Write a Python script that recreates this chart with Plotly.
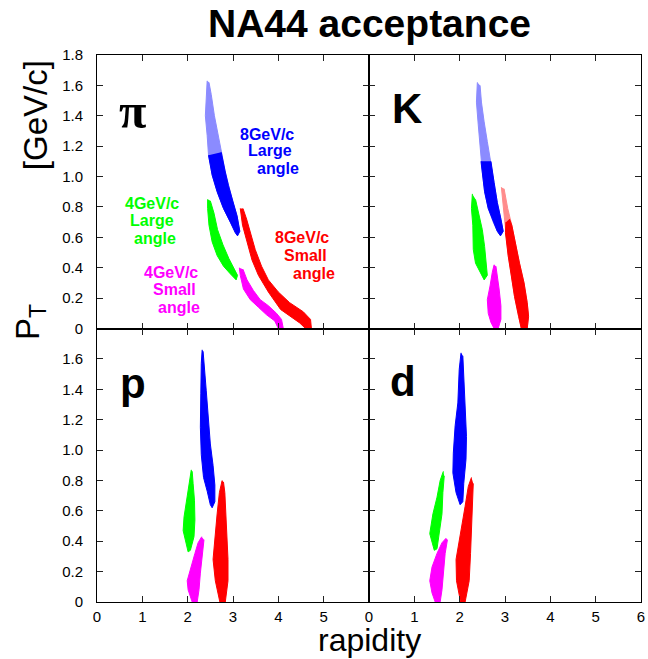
import plotly.graph_objects as go
from plotly.subplots import make_subplots

# ---------------- data (rapidity, pT) ----------------
# colours: blue = 8GeV/c large angle, green = 4GeV/c large angle,
#          magenta = 4GeV/c small angle, red = 8GeV/c small angle
x_ticks = [0, 1, 2, 3, 4, 5, 6]
y_ticks_top = [0, 0.2, 0.4, 0.6, 0.8, 1.0, 1.2, 1.4, 1.6, 1.8]
y_ticks_bot = [0, 0.2, 0.4, 0.6, 0.8, 1.0, 1.2, 1.4, 1.6]
y_ticktext_top = ["0", "0.2", "0.4", "0.6", "0.8", "1.0", "1.2", "1.4", "1.6", "1.8"]
y_ticktext_bot = ["0", "0.2", "0.4", "0.6", "0.8", "1.0", "1.2", "1.4", "1.6"]

# pi
pi_blue_y = [2.43, 2.42, 2.39, 2.43, 2.46, 2.54, 2.65, 2.79, 2.94, 3.05, 3.10, 3.15, 3.09, 3.00, 2.90, 2.83, 2.76, 2.67, 2.59, 2.52, 2.47]
pi_blue_pt = [1.63, 1.54, 1.40, 1.27, 1.14, 1.01, 0.90, 0.79, 0.70, 0.63, 0.61, 0.64, 0.74, 0.83, 0.94, 1.03, 1.14, 1.27, 1.40, 1.54, 1.62]
pi_blue_core_y = [2.46, 2.54, 2.65, 2.79, 2.94, 3.05, 3.10, 3.15, 3.09, 3.00, 2.90, 2.83, 2.74]
pi_blue_core_pt = [1.14, 1.01, 0.90, 0.79, 0.70, 0.63, 0.61, 0.64, 0.74, 0.83, 0.94, 1.03, 1.16]
pi_green_y = [2.44, 2.44, 2.47, 2.54, 2.65, 2.79, 2.94, 3.07, 3.10, 3.01, 2.91, 2.78, 2.66, 2.58, 2.50]
pi_green_pt = [0.85, 0.79, 0.68, 0.57, 0.48, 0.41, 0.36, 0.32, 0.35, 0.40, 0.46, 0.55, 0.65, 0.76, 0.84]
pi_mag_y = [3.14, 3.16, 3.23, 3.38, 3.56, 3.74, 3.92, 4.00, 4.11, 4.07, 3.96, 3.78, 3.60, 3.45, 3.31, 3.22]
pi_mag_pt = [0.40, 0.35, 0.26, 0.19, 0.14, 0.09, 0.05, 0.0, 0.0, 0.06, 0.10, 0.15, 0.19, 0.25, 0.32, 0.39]
pi_red_y = [3.16, 3.21, 3.31, 3.42, 3.56, 3.78, 4.05, 4.47, 4.60, 4.73, 4.71, 4.55, 4.25, 4.00, 3.78, 3.63, 3.49, 3.39, 3.30, 3.22]
pi_red_pt = [0.79, 0.68, 0.57, 0.45, 0.35, 0.24, 0.125, 0.037, 0.0, 0.0, 0.06, 0.11, 0.17, 0.24, 0.32, 0.41, 0.52, 0.63, 0.72, 0.79]

# K
k_blue_y = [2.39, 2.37, 2.41, 2.45, 2.50, 2.55, 2.63, 2.74, 2.83, 2.90, 2.96, 2.91, 2.83, 2.76, 2.69, 2.61, 2.54, 2.48, 2.45]
k_blue_pt = [1.62, 1.49, 1.34, 1.18, 1.03, 0.90, 0.79, 0.70, 0.64, 0.61, 0.64, 0.72, 0.83, 0.96, 1.10, 1.23, 1.36, 1.49, 1.60]
k_blue_core_y = [2.47, 2.50, 2.55, 2.63, 2.74, 2.83, 2.90, 2.96, 2.91, 2.83, 2.76, 2.69]
k_blue_core_pt = [1.10, 1.03, 0.90, 0.79, 0.70, 0.64, 0.61, 0.64, 0.72, 0.83, 0.96, 1.10]
k_green_y = [2.28, 2.26, 2.29, 2.30, 2.35, 2.45, 2.54, 2.61, 2.59, 2.55, 2.50, 2.42, 2.35]
k_green_pt = [0.886, 0.79, 0.68, 0.52, 0.43, 0.37, 0.32, 0.35, 0.43, 0.54, 0.65, 0.76, 0.85]
k_mag_y = [2.76, 2.72, 2.67, 2.61, 2.63, 2.69, 2.76, 2.85, 2.91, 2.91, 2.87, 2.83, 2.80]
k_mag_pt = [0.42, 0.37, 0.28, 0.19, 0.10, 0.04, 0.0, 0.0, 0.06, 0.15, 0.26, 0.35, 0.41]
k_red_y = [2.92, 2.98, 3.01, 3.07, 3.14, 3.21, 3.30, 3.36, 3.49, 3.52, 3.49, 3.42, 3.32, 3.23, 3.15, 3.06, 2.98]
k_red_pt = [0.93, 0.74, 0.63, 0.48, 0.35, 0.21, 0.08, 0.0, 0.0, 0.08, 0.17, 0.30, 0.43, 0.57, 0.68, 0.79, 0.92]
k_red_core_y = [3.02, 3.01, 3.07, 3.14, 3.21, 3.30, 3.36, 3.49, 3.52, 3.49, 3.42, 3.32, 3.23, 3.15, 3.10]
k_red_core_pt = [0.70, 0.63, 0.48, 0.35, 0.21, 0.08, 0.0, 0.0, 0.08, 0.17, 0.30, 0.43, 0.57, 0.68, 0.72]

# p
p_blue_y = [2.32, 2.30, 2.29, 2.28, 2.30, 2.35, 2.43, 2.50, 2.54, 2.60, 2.60, 2.56, 2.50, 2.45, 2.41, 2.37, 2.34]
p_blue_pt = [1.66, 1.57, 1.37, 1.15, 0.97, 0.82, 0.73, 0.64, 0.62, 0.66, 0.77, 0.90, 1.04, 1.21, 1.39, 1.54, 1.65]
p_green_y = [2.08, 2.03, 1.98, 1.92, 1.90, 1.96, 2.01, 2.06, 2.14, 2.16, 2.15, 2.12, 2.10]
p_green_pt = [0.87, 0.78, 0.67, 0.56, 0.47, 0.39, 0.33, 0.34, 0.43, 0.54, 0.67, 0.78, 0.86]
p_mag_y = [2.31, 2.23, 2.16, 2.07, 1.99, 2.01, 2.10, 2.21, 2.25, 2.28, 2.32, 2.36]
p_mag_pt = [0.43, 0.39, 0.32, 0.23, 0.14, 0.08, 0.0, 0.0, 0.08, 0.19, 0.30, 0.41]
p_red_y = [2.76, 2.70, 2.65, 2.60, 2.56, 2.61, 2.71, 2.83, 2.89, 2.89, 2.87, 2.85, 2.82, 2.79]
p_red_pt = [0.80, 0.72, 0.58, 0.43, 0.28, 0.14, 0.0, 0.0, 0.14, 0.28, 0.43, 0.58, 0.72, 0.79]

# d
d_blue_y = [2.03, 1.99, 1.96, 1.90, 1.86, 1.85, 1.92, 2.01, 2.07, 2.09, 2.14, 2.15, 2.12, 2.09, 2.07]
d_blue_pt = [1.64, 1.53, 1.31, 1.16, 0.98, 0.85, 0.72, 0.64, 0.66, 0.78, 0.94, 1.09, 1.29, 1.47, 1.62]
d_green_y = [1.64, 1.57, 1.50, 1.41, 1.34, 1.39, 1.44, 1.50, 1.55, 1.61, 1.63, 1.66]
d_green_pt = [0.86, 0.80, 0.69, 0.58, 0.45, 0.39, 0.34, 0.35, 0.45, 0.58, 0.72, 0.83]
d_mag_y = [1.70, 1.61, 1.50, 1.39, 1.34, 1.39, 1.46, 1.57, 1.61, 1.64, 1.68, 1.73]
d_mag_pt = [0.42, 0.39, 0.32, 0.23, 0.14, 0.06, 0.0, 0.0, 0.08, 0.19, 0.32, 0.41]
d_red_y = [2.26, 2.19, 2.12, 2.02, 1.92, 1.93, 2.02, 2.12, 2.21, 2.24, 2.26, 2.28, 2.30]
d_red_pt = [0.82, 0.76, 0.63, 0.45, 0.28, 0.14, 0.0, 0.0, 0.14, 0.32, 0.50, 0.65, 0.78]

BLUE, GREEN, MAG, RED = "#0000ff", "#00ff00", "#ff00ff", "#ff0000"
FONT = "Liberation Sans, Arial, sans-serif"

# (row, col, x, y, colour, opacity)
regions = [
    (1, 1, pi_blue_y, pi_blue_pt, BLUE, 0.45),
    (1, 1, pi_blue_core_y, pi_blue_core_pt, BLUE, 1.0),
    (1, 1, pi_green_y, pi_green_pt, GREEN, 1.0),
    (1, 1, pi_mag_y, pi_mag_pt, MAG, 1.0),
    (1, 1, pi_red_y, pi_red_pt, RED, 1.0),
    (1, 2, k_blue_y, k_blue_pt, BLUE, 0.45),
    (1, 2, k_blue_core_y, k_blue_core_pt, BLUE, 1.0),
    (1, 2, k_green_y, k_green_pt, GREEN, 1.0),
    (1, 2, k_mag_y, k_mag_pt, MAG, 1.0),
    (1, 2, k_red_y, k_red_pt, RED, 0.45),
    (1, 2, k_red_core_y, k_red_core_pt, RED, 1.0),
    (2, 1, p_blue_y, p_blue_pt, BLUE, 1.0),
    (2, 1, p_green_y, p_green_pt, GREEN, 1.0),
    (2, 1, p_mag_y, p_mag_pt, MAG, 1.0),
    (2, 1, p_red_y, p_red_pt, RED, 1.0),
    (2, 2, d_blue_y, d_blue_pt, BLUE, 1.0),
    (2, 2, d_green_y, d_green_pt, GREEN, 1.0),
    (2, 2, d_mag_y, d_mag_pt, MAG, 1.0),
    (2, 2, d_red_y, d_red_pt, RED, 1.0),
]

fig = make_subplots(rows=2, cols=2, horizontal_spacing=0, vertical_spacing=0)

for row, col, xs, ys, colour, op in regions:
    fig.add_trace(go.Scatter(x=xs, y=ys, mode="lines", fill="toself",
                             fillcolor=colour, line=dict(color=colour, width=1),
                             opacity=op, showlegend=False, hoverinfo="skip"),
                  row=row, col=col)

axis_common = dict(showline=True, linecolor="black", linewidth=1, mirror="ticks",
                   ticks="inside", ticklen=6, tickwidth=1.3, tickcolor="#222",
                   showgrid=False, zeroline=False,
                   tickfont=dict(family=FONT, size=15, color="black"))

for r in (1, 2):
    for c in (1, 2):
        xa = dict(axis_common, range=[0, 6], tickvals=x_ticks,
                  showticklabels=(r == 2), ticklabelstandoff=1,
                  ticklabeloverflow="allow")
        if r == 2 and c == 1:
            xa["tickvals"] = x_ticks[:-1]
        ya = dict(axis_common, range=[0, 1.8],
                  tickvals=y_ticks_top if r == 1 else y_ticks_bot,
                  ticktext=y_ticktext_top if r == 1 else y_ticktext_bot,
                  showticklabels=(c == 1), ticklabelstandoff=10)
        fig.update_xaxes(xa, row=r, col=c)
        fig.update_yaxes(ya, row=r, col=c)

ann = []
# panel letters
ann.append(dict(text="<b>π</b>", x=0.79, y=1.43, xref="x", yref="y", showarrow=False,
                font=dict(family="Liberation Serif, Times New Roman, serif", size=50, color="black")))
ann.append(dict(text="<b>K</b>", x=0.83, y=1.45, xref="x2", yref="y2", showarrow=False,
                font=dict(family=FONT, size=42, color="black")))
ann.append(dict(text="<b>p</b>", x=0.79, y=1.44, xref="x3", yref="y3", showarrow=False,
                font=dict(family=FONT, size=42, color="black")))
ann.append(dict(text="<b>d</b>", x=0.76, y=1.45, xref="x4", yref="y4", showarrow=False,
                font=dict(family=FONT, size=42, color="black")))

# labels in pi panel (each line placed as in the picture)
labels = [
    ("8GeV/c", 3.74, 1.28, BLUE), ("Large", 3.82, 1.17, BLUE), ("angle", 3.99, 1.05, BLUE),
    ("4GeV/c", 1.22, 0.82, GREEN), ("Large", 1.21, 0.71, GREEN), ("angle", 1.28, 0.595, GREEN),
    ("8GeV/c", 4.53, 0.60, RED), ("Small", 4.60, 0.48, RED), ("angle", 4.78, 0.365, RED),
    ("4GeV/c", 1.63, 0.37, MAG), ("Small", 1.71, 0.255, MAG), ("angle", 1.81, 0.14, MAG),
]
for t, lx, ly, colour in labels:
    ann.append(dict(text="<b>%s</b>" % t, x=lx, y=ly, xref="x", yref="y", showarrow=False,
                    font=dict(family=FONT, size=16, color=colour)))

# title and axis titles
ann.append(dict(text="<b>NA44 acceptance</b>", x=0.5, y=1, xref="paper", yref="paper",
                yanchor="middle", yshift=32, showarrow=False,
                font=dict(family=FONT, size=39, color="black")))
ann.append(dict(text="rapidity", x=0.5, y=0, xref="paper", yref="paper",
                yanchor="top", yshift=-18, showarrow=False,
                font=dict(family=FONT, size=32, color="black")))
ann.append(dict(text="P<sub>T</sub>", x=0, y=0.512, xref="paper", yref="paper",
                xanchor="center", yanchor="middle", xshift=-67, textangle=-90,
                showarrow=False, font=dict(family=FONT, size=33, color="black")))
ann.append(dict(text="[GeV/c]", x=0, y=0.89, xref="paper", yref="paper",
                xanchor="center", yanchor="middle", xshift=-62, textangle=-90,
                showarrow=False, font=dict(family=FONT, size=33, color="black")))

fig.update_layout(width=648, height=659, margin=dict(l=97, r=3, t=55, b=57),
                  paper_bgcolor="white", plot_bgcolor="white",
                  annotations=ann, showlegend=False)

fig.write_html("out.html")
